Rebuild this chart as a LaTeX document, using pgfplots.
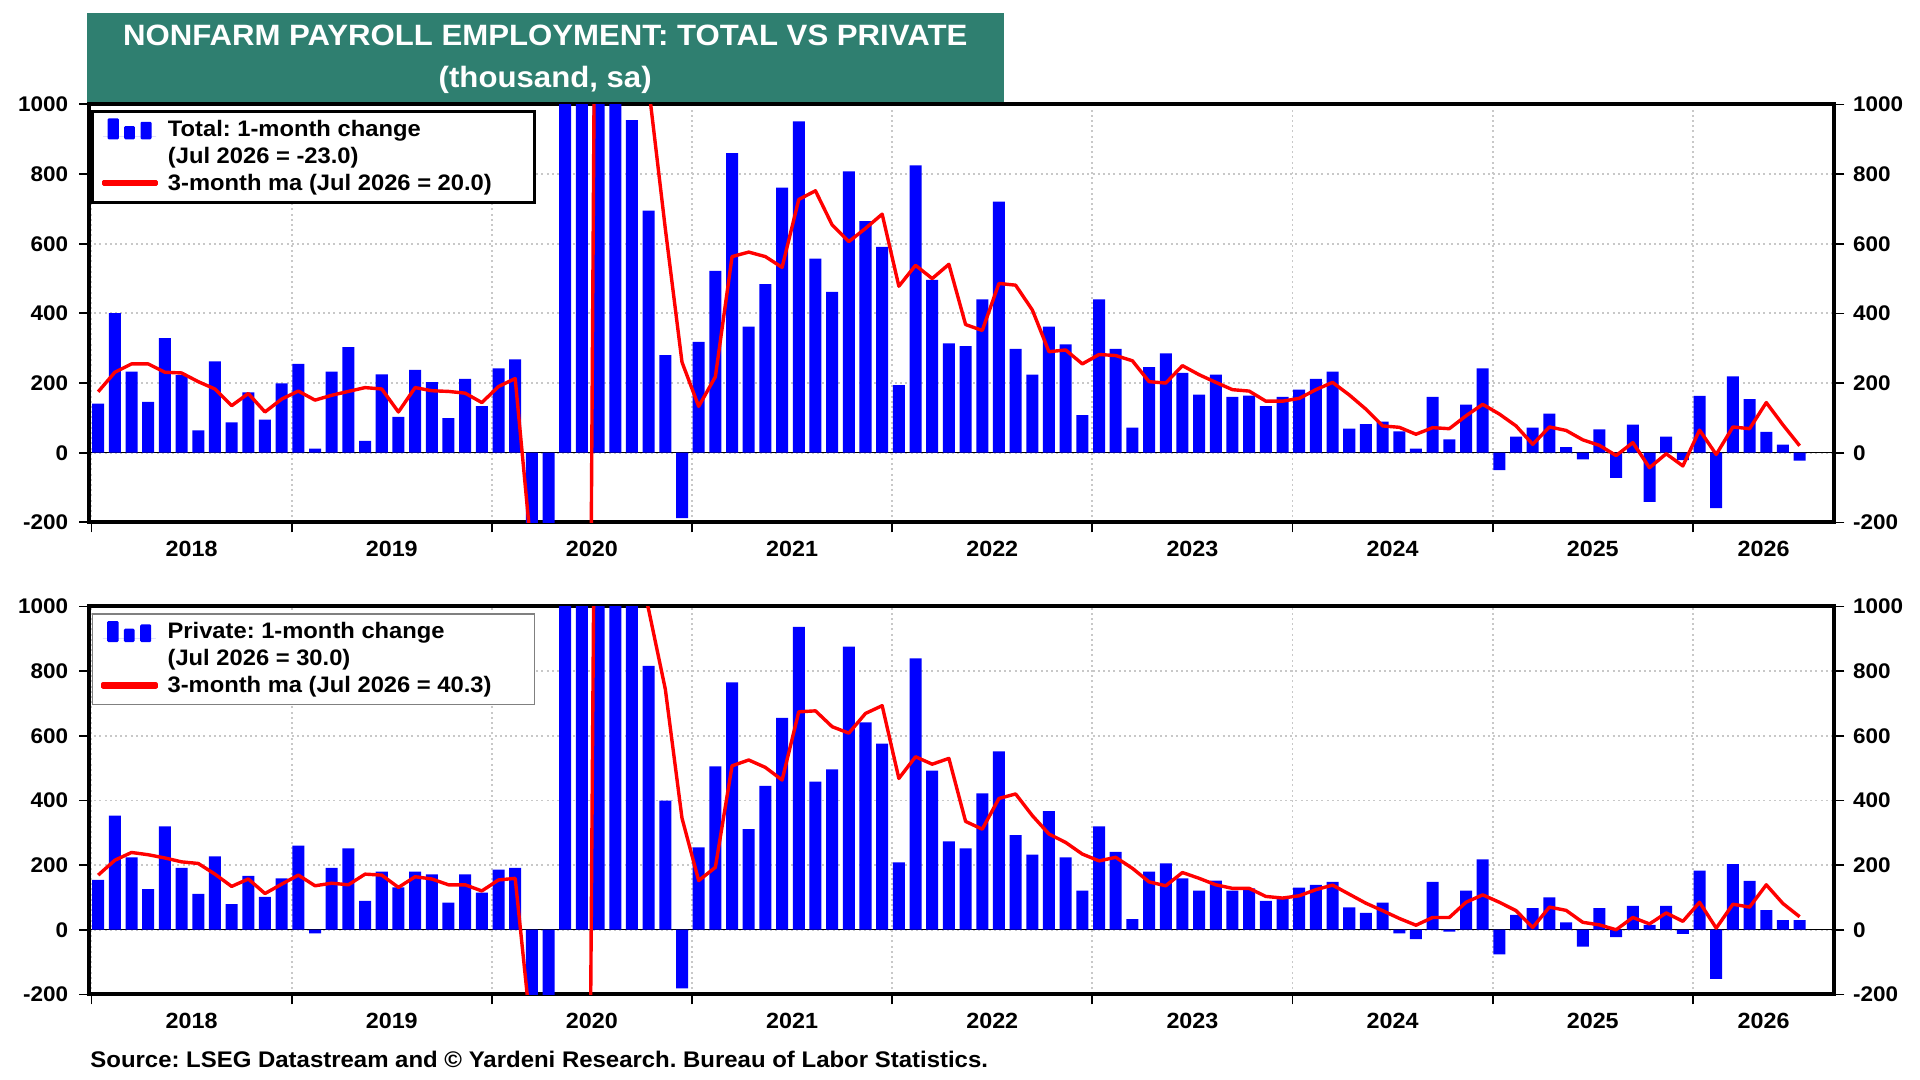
\documentclass[border=0pt]{standalone}
\usepackage{pgfplots}
\pgfplotsset{compat=1.18}
\usepackage{pgfplotstable}
\usepackage{fontspec}
\setmainfont{Liberation Sans}[FakeStretch=1.06]
\frenchspacing
\definecolor{titlegreen}{RGB}{47,127,112}
\definecolor{gridgray}{RGB}{200,200,200}
\definecolor{legendgray}{RGB}{128,128,128}
\definecolor{barblue}{RGB}{0,0,255}
\definecolor{linered}{RGB}{255,0,0}

\pgfplotstableread{
i bar ma
0 141 175
1 401 231
2 233 255
3 146 255
4 329 231
5 223 229
6 64 204
7 262 183
8 87 135
9 173 170
10 95 117
11 199 154
12 255 177
13 12 151
14 233 165
15 303 176
16 34 187
17 225 183
18 103 117
19 238 187
20 203 178
21 99 176
22 212 171
23 134 144
24 242 190
25 268 213
26 -1400 -297
27 -20500 -7211
28 2800 -6367
29 4600 -4367
30 1700 3033
31 1500 2600
32 955 1385
33 695 1050
34 280 643
35 -188 260
36 318 133
37 522 218
38 860 563
39 362 576
40 484 563
41 761 532
42 951 727
43 557 752
44 462 654
45 808 606
46 665 644
47 591 685
48 194 478
49 825 538
50 496 500
51 314 541
52 306 368
53 440 351
54 721 486
55 298 481
56 224 410
57 362 290
58 311 295
59 108 255
60 440 282
61 298 279
62 72 264
63 246 204
64 285 200
65 229 250
66 167 224
67 224 202
68 160 181
69 164 177
70 134 148
71 160 148
72 181 156
73 212 181
74 233 202
75 69 166
76 82 125
77 89 77
78 61 73
79 12 53
80 160 72
81 38 69
82 138 106
83 242 139
84 -50 111
85 46 77
86 72 24
87 112 74
88 16 64
89 -19 37
90 67 21
91 -72 -8
92 81 29
93 -141 -43
94 46 -3
95 -21 -38
96 163 65
97 -159 -5
98 219 74
99 154 69
100 60 144
101 23 80
102 -23 20
}\totaldata

\pgfplotstableread{
i bar ma
0 154 169
1 353 215
2 224 239
3 126 232
4 320 222
5 191 210
6 111 205
7 227 172
8 79 134
9 167 157
10 102 112
11 159 141
12 260 169
13 -11 136
14 191 144
15 252 139
16 89 172
17 180 169
18 131 131
19 180 164
20 171 157
21 84 139
22 171 139
23 115 120
24 186 154
25 191 159
26 -1400 -341
27 -19800 -7003
28 3300 -5967
29 4700 -3933
30 1400 3133
31 1167 2422
32 1017 1195
33 816 990
34 399 744
35 -181 345
36 255 152
37 505 193
38 765 507
39 311 525
40 445 502
41 655 463
42 937 674
43 458 677
44 496 628
45 876 608
46 641 669
47 576 693
48 208 468
49 839 535
50 492 512
51 273 530
52 252 335
53 422 311
54 552 406
55 293 420
56 232 353
57 367 296
58 224 270
59 121 234
60 320 213
61 241 224
62 33 190
63 180 148
64 205 136
65 159 177
66 121 159
67 152 139
68 121 128
69 128 128
70 89 103
71 100 98
72 130 105
73 139 124
74 148 138
75 69 110
76 52 82
77 84 59
78 -11 35
79 -29 14
80 148 38
81 -6 38
82 121 85
83 218 108
84 -76 85
85 46 59
86 67 7
87 100 70
88 23 60
89 -52 23
90 67 15
91 -23 0
92 74 38
93 15 18
94 74 52
95 -13 26
96 183 85
97 -152 5
98 203 79
99 151 70
100 61 139
101 30 81
102 30 40.3
}\privatedata

\newcommand{\tickfont}{\fontsize{10.6}{12}\selectfont\bfseries}
\newcommand{\yearfont}{\fontsize{11}{13}\selectfont\bfseries}
\newcommand{\legfont}{\fontsize{11.2}{13}\selectfont\bfseries}

\pgfplotsset{
  panel/.style={
    scale only axis, width=872.65pt,
    xmin=-0.55, xmax=104.08, ymin=-200, ymax=1000,
    axis line style={line width=2pt, black},
    tick align=outside,
    major tick length=5pt,
    xtick pos=bottom, ytick pos=left,
    xtick={-0.4,11.6,23.6,35.6,47.6,59.6,71.6,83.6,95.6},
    xticklabels={},
    ytick={-200,0,200,400,600,800,1000},
    xmajorgrids, ymajorgrids,
    grid style={gridgray, line width=0.9pt, dash pattern=on 1pt off 1.6pt},
    tick style={black, line width=0.9pt},
    extra x ticks={5.6,17.6,29.6,41.6,53.6,65.6,77.6,89.6,99.84},
    extra x tick labels={2018,2019,2020,2021,2022,2023,2024,2025,2026},
    extra x tick style={major tick length=0pt, grid=none},
    extra y ticks={0},
    extra y tick labels={},
    extra y tick style={grid=major, major grid style={black, solid, line width=0.6pt}},
    xticklabel style={font=\yearfont, anchor=base, inner sep=0pt, yshift=-17pt},
    yticklabel style={font=\tickfont, anchor=east, inner sep=0pt, xshift=-5.25pt},
    /pgf/number format/assume math mode=true,
    /pgf/number format/1000 sep={},
    legend style={at={(0,1)}, anchor=north west, font=\legfont,
      fill=white, inner xsep=4.5pt, inner ysep=3.5pt,
      row sep=2.5pt, column sep=5pt,
      cells={anchor=base west},
      nodes={inner sep=0pt, text height=8.5pt, text depth=2.5pt}},
  },
  rightaxis/.style={
    scale only axis, width=872.65pt,
    xmin=-0.55, xmax=104.08, ymin=-200, ymax=1000,
    hide x axis, axis y line*=right,
    y axis line style={draw=none},
    tick align=outside, major tick length=5pt,
    tick style={black, line width=0.9pt},
    ytick={-200,0,200,400,600,800,1000},
    yticklabel style={font=\tickfont, anchor=west, inner sep=0pt, xshift=4.2pt},
    /pgf/number format/assume math mode=true,
    /pgf/number format/1000 sep={},
  },
  barimg/.style={legend image code/.code={
      \path (0pt,0pt) -- (26.5pt,0pt);
      \fill[barblue, rounded corners=0.6pt] (2.15pt,-1.65pt) rectangle (7.85pt,8.85pt);
      \fill[barblue, rounded corners=0.6pt] (10.5pt,-1.65pt) rectangle (15.85pt,5pt);
      \fill[barblue, rounded corners=0.6pt] (18.65pt,-1.65pt) rectangle (24.15pt,7.15pt);}},
  lineimg/.style={legend image code/.code={
      \fill[linered] (0pt,2.7pt) rectangle (26.5pt,4.3pt);}},
}

\begin{document}
\begin{tikzpicture}
\path[use as bounding box] (0pt,0pt) rectangle (960pt,540pt);

% title box
\fill[titlegreen] (43.25pt,488.65pt) rectangle (502pt,533.65pt);
\node[anchor=base, text=white, font=\fontsize{14.7}{16}\selectfont\bfseries, inner sep=0pt]
  at (272.6pt,517.15pt) {NONFARM PAYROLL EMPLOYMENT: TOTAL VS PRIVATE};
\node[anchor=base, text=white, font=\fontsize{14.7}{16}\selectfont\bfseries, inner sep=0pt]
  at (272.6pt,496.35pt) {(thousand, sa)};

% top panel
\begin{axis}[panel, at={(44.5pt,278.75pt)}, anchor=south west, height=209pt,
  legend style={xshift=1pt, yshift=-2.75pt, draw=black, line width=1.5pt}]
\addplot[ybar, bar width=0.72, bar shift=0pt, fill=barblue, draw=none, barimg]
  table[x=i, y=bar] {\totaldata};
\addlegendentry{Total: 1-month change}
\addlegendimage{empty legend}
\addlegendentry{(Jul 2026 = -23.0)}
\addplot[linered, line width=1.7pt, line join=round, mark=none, lineimg]
  table[x=i, y=ma] {\totaldata};
\addlegendentry{3-month ma (Jul 2026 = 20.0)\rule{17pt}{0pt}}
\end{axis}
\begin{axis}[rightaxis, at={(44.5pt,278.75pt)}, anchor=south west, height=209pt]
\addplot[draw=none] coordinates {(0,0)};
\end{axis}

% bottom panel
\begin{axis}[panel, at={(44.5pt,42.75pt)}, anchor=south west, height=194pt,
  legend style={xshift=1.3pt, yshift=-3.5pt, draw=legendgray, line width=0.6pt}]
\addplot[ybar, bar width=0.72, bar shift=0pt, fill=barblue, draw=none, barimg]
  table[x=i, y=bar] {\privatedata};
\addlegendentry{Private: 1-month change}
\addlegendimage{empty legend}
\addlegendentry{(Jul 2026 = 30.0)}
\addplot[linered, line width=1.7pt, line join=round, mark=none, lineimg]
  table[x=i, y=ma] {\privatedata};
\addlegendentry{3-month ma (Jul 2026 = 40.3)\rule{17pt}{0pt}}
\end{axis}
\begin{axis}[rightaxis, at={(44.5pt,42.75pt)}, anchor=south west, height=194pt]
\addplot[draw=none] coordinates {(0,0)};
\end{axis}

% source
\node[anchor=base west, inner sep=0pt, font=\fontsize{11.3}{13}\selectfont\bfseries]
  at (45pt,6.35pt) {Source: LSEG Datastream and © Yardeni Research. Bureau of Labor Statistics.};
\end{tikzpicture}
\end{document}
